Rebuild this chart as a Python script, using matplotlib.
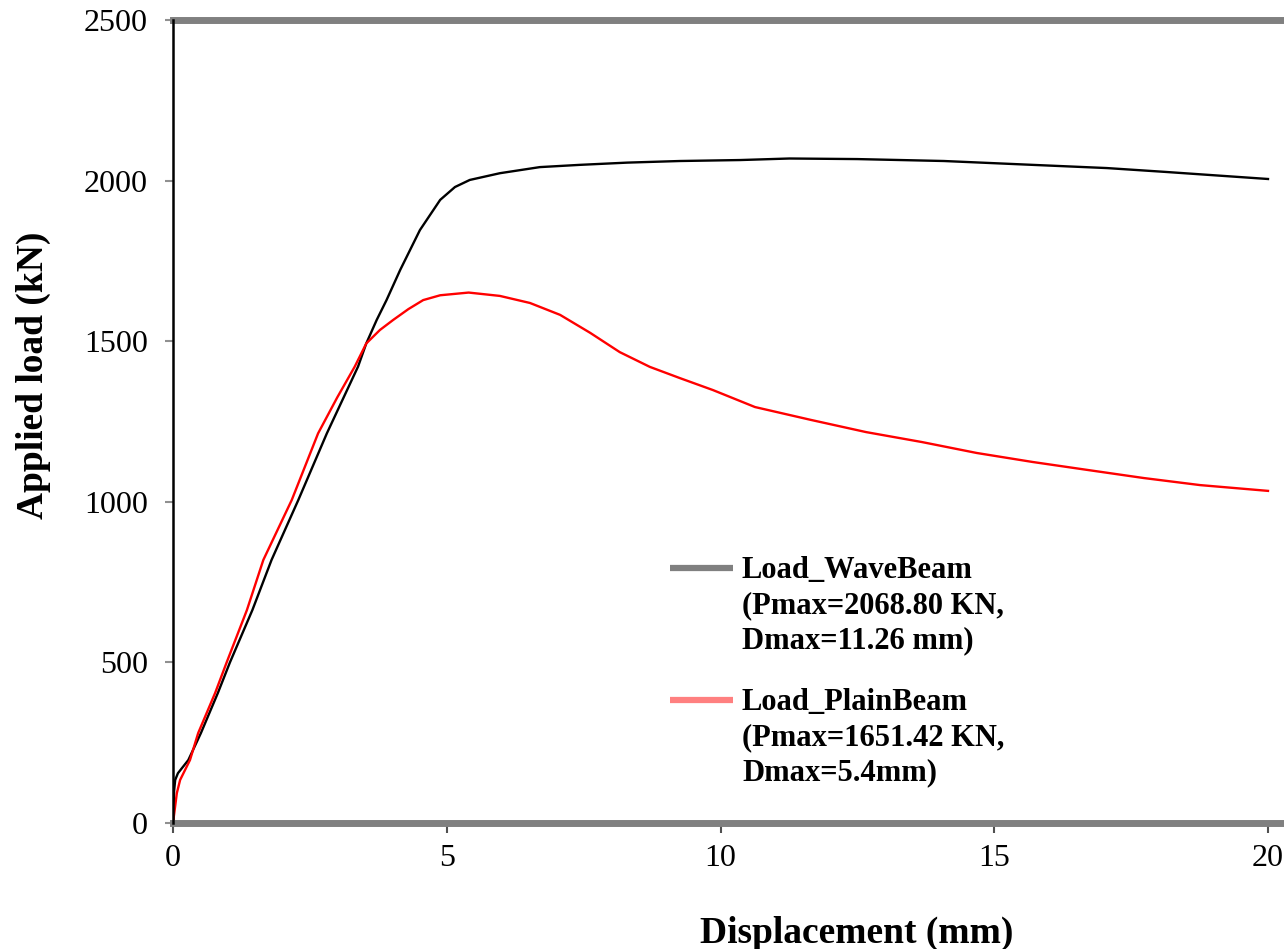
import matplotlib
matplotlib.use('Agg')
import matplotlib.pyplot as plt

plt.rcParams['font.family'] = ['Liberation Serif', 'DejaVu Serif']

# Load_WaveBeam (black)
wave_x = [0, 0.02, 0.04, 0.09, 0.28, 0.51, 0.82, 1.04, 1.45, 1.80, 2.29, 2.81, 3.38,
          3.53, 3.72, 3.90, 4.15, 4.51, 4.88, 5.15, 5.42, 5.97, 6.70, 7.43, 8.3,
          9.26, 10.36, 11.26, 12.5, 14.08, 15.7, 17.06, 18.13, 20.0]
wave_y = [0, 100, 134, 155, 196, 280, 405, 500, 663, 819, 1006, 1213, 1421,
          1493, 1566, 1628, 1722, 1846, 1940, 1980, 2002, 2023, 2042, 2049, 2056,
          2061, 2064, 2068.8, 2067, 2061, 2049, 2039, 2027, 2005]

# Load_PlainBeam (red)
plain_x = [0, 0.07, 0.13, 0.31, 0.46, 0.77, 0.98, 1.35, 1.65, 2.17, 2.65, 3.0, 3.32,
           3.53, 3.78, 4.02, 4.3, 4.57, 4.88, 5.4, 5.97, 6.52, 7.07, 7.62, 8.16,
           8.71, 9.26, 9.86, 10.63, 11.65, 12.66, 13.68, 14.68, 15.7, 16.71, 17.73,
           18.76, 20.0]
plain_y = [0, 93, 134, 196, 280, 405, 500, 663, 819, 1006, 1213, 1325, 1421,
           1493, 1535, 1566, 1600, 1628, 1643, 1651.42, 1641, 1619, 1582, 1526, 1466,
           1420, 1385, 1348, 1295, 1255, 1217, 1186, 1152, 1124, 1099, 1074,
           1052, 1034]

xticks_v = [0, 5, 10, 15, 20]
yticks_v = [0, 500, 1000, 1500, 2000, 2500]

wave_label = ['Load_WaveBeam', '(Pmax=2068.80 KN,', 'Dmax=11.26 mm)']
plain_label = ['Load_PlainBeam', '(Pmax=1651.42 KN,', 'Dmax=5.4mm)']

W, H = 1284, 949
fig = plt.figure(figsize=(W/100, H/100), dpi=100)
ax = fig.add_axes([173/W, (H-823)/H, 1111/W, 803/H])

ax.plot(wave_x, wave_y, color='black', lw=1.7, solid_joinstyle='round')
ax.plot(plain_x, plain_y, color='red', lw=1.7, solid_joinstyle='round')

ax.set_xlim(0, 20*1111/1095)
ax.set_ylim(0, 2500)
ax.set_xticks(xticks_v)
ax.set_yticks(yticks_v)
ax.tick_params(axis='x', direction='out', length=7, width=1.5, color='#505050',
               labelsize=23, pad=8)
ax.tick_params(axis='y', direction='out', length=6, width=1.5, color='#909090',
               labelsize=23, pad=12)

ax.spines['right'].set_visible(False)
ax.spines['left'].set_color('black')
ax.spines['left'].set_linewidth(1.8)
for s in ['top', 'bottom']:
    ax.spines[s].set_color('#808080')
    ax.spines[s].set_linewidth(5)
ax.spines['left'].set_zorder(3)

# legend, drawn by hand so the swatch sits on the first text line
def ax_xy(px, py):
    return (px-173)/1111, (823-py)/803

for sw_y, txt_y, col, lab in [(568, 556, '#808080', wave_label),
                              (700, 688, '#ff8080', plain_label)]:
    x0, y0 = ax_xy(670, sw_y)
    x1, _ = ax_xy(733, sw_y)
    ax.plot([x0, x1], [y0, y0], transform=ax.transAxes, color=col, lw=4.5,
            solid_capstyle='butt', clip_on=False)
    tx, ty = ax_xy(742, txt_y)
    ax.text(tx, ty, '\n'.join(lab), transform=ax.transAxes, fontsize=22,
            fontweight='bold', va='top', ha='left', linespacing=1.27)

fig.text(857/W, 6/H, 'Displacement (mm)', fontsize=27, fontweight='bold',
         ha='center', va='baseline')
fig.text(33/W, (H-375)/H, 'Applied load (kN)', fontsize=27, fontweight='bold',
         ha='center', va='center', rotation=90)

fig.savefig('out.png', dpi=100)
